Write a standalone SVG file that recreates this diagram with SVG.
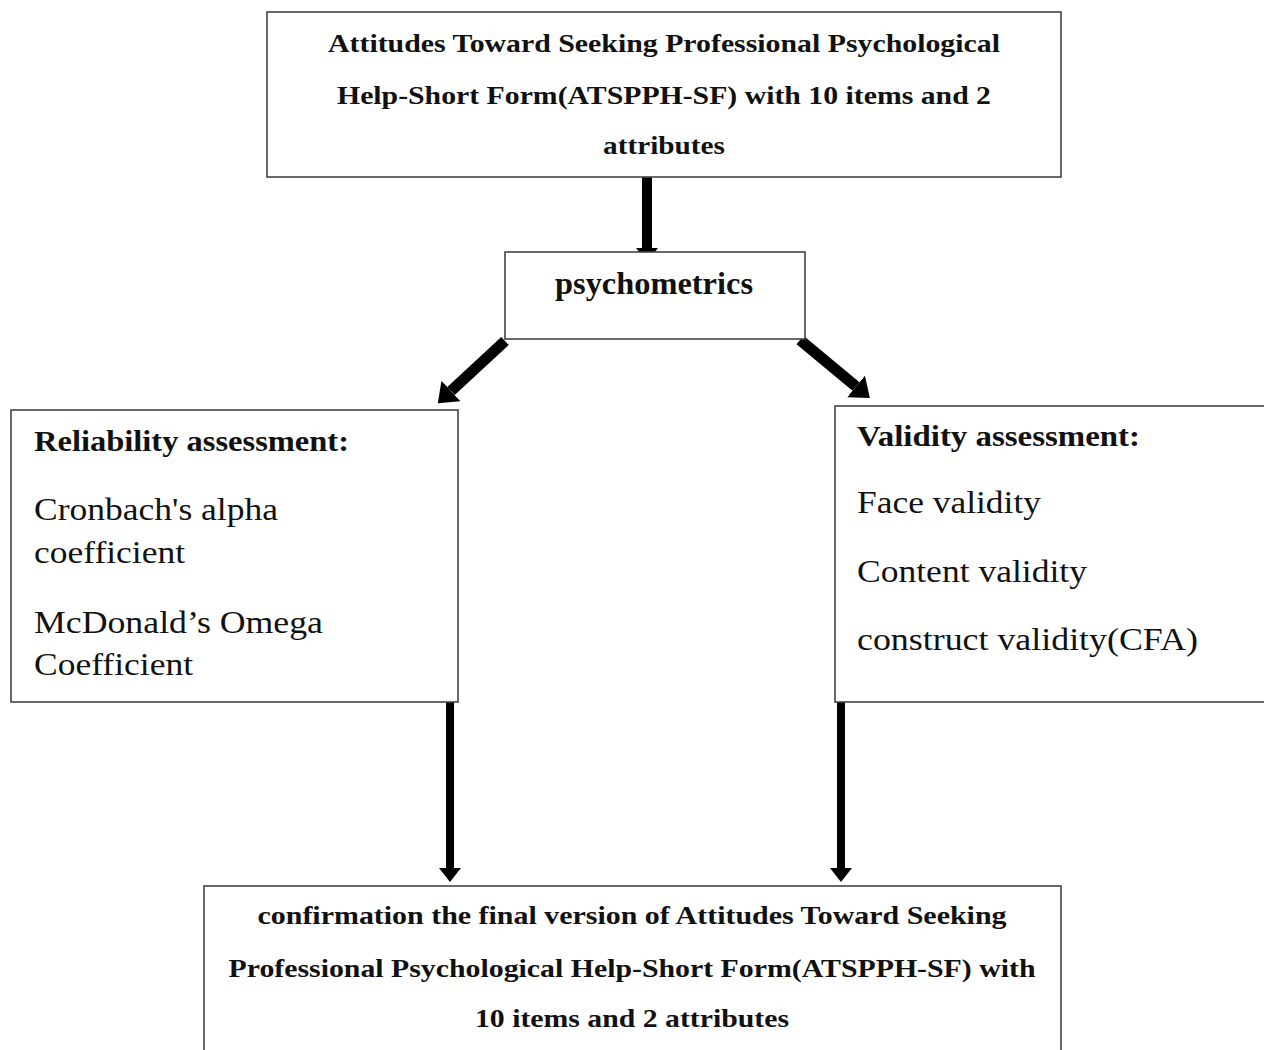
<svg xmlns="http://www.w3.org/2000/svg" width="1264" height="1050" viewBox="0 0 1264 1050">
<style>
.box{fill:#fff;stroke:#444;stroke-width:1.6}
.b{font-weight:700;fill:#111}
.r{font-weight:400;fill:#111}
.arr{stroke:#000;fill:none}
</style>
<defs>
<marker id="hA" markerUnits="userSpaceOnUse" markerWidth="14" markerHeight="22" viewBox="0 0 14 22" refX="0" refY="11" orient="auto"><path d="M0,0 L14,11 L0,22 z" fill="#000"/></marker>
<marker id="hB" markerUnits="userSpaceOnUse" markerWidth="18" markerHeight="28" viewBox="0 0 18 28" refX="0" refY="14" orient="auto"><path d="M0,0 L18,14 L0,28 z" fill="#000"/></marker>
</defs>
<rect width="1264" height="1050" fill="#fff"/>
<g id="connectors">
<line class="arr" x1="647" y1="176" x2="647" y2="248" stroke-width="10" marker-end="url(#hA)"/>
<line class="arr" x1="505" y1="341" x2="451" y2="391" stroke-width="11" marker-end="url(#hB)"/>
<line class="arr" x1="800" y1="340" x2="856" y2="386.5" stroke-width="11" marker-end="url(#hB)"/>
<line class="arr" x1="450" y1="702" x2="450" y2="868" stroke-width="8" marker-end="url(#hA)"/>
<line class="arr" x1="841" y1="702" x2="841" y2="868" stroke-width="8" marker-end="url(#hA)"/>
</g>
<g font-family="Liberation Serif, Times New Roman, serif">
<g id="node-top">
<rect class="box" x="267" y="12" width="794" height="165"/>
<text class="b" x="664" y="52" font-size="26" text-anchor="middle" textLength="672" lengthAdjust="spacingAndGlyphs">Attitudes Toward Seeking Professional Psychological</text>
<text class="b" x="664" y="104" font-size="26" text-anchor="middle" textLength="654" lengthAdjust="spacingAndGlyphs">Help-Short Form(ATSPPH-SF) with 10 items and 2</text>
<text class="b" x="664" y="154" font-size="26" text-anchor="middle" textLength="122" lengthAdjust="spacingAndGlyphs">attributes</text>
</g>
<g id="node-psychometrics">
<rect class="box" x="505" y="252" width="300" height="87"/>
<text class="b" x="654" y="294" font-size="31" text-anchor="middle" textLength="198" lengthAdjust="spacingAndGlyphs">psychometrics</text>
</g>
<g id="node-reliability">
<rect class="box" x="11" y="410" width="447" height="292"/>
<text class="b" x="34" y="451" font-size="29" textLength="315" lengthAdjust="spacingAndGlyphs">Reliability assessment:</text>
<text class="r" x="34" y="520" font-size="31" textLength="244" lengthAdjust="spacingAndGlyphs">Cronbach's alpha</text>
<text class="r" x="34" y="563" font-size="31" textLength="151" lengthAdjust="spacingAndGlyphs">coefficient</text>
<text class="r" x="34" y="633" font-size="31" textLength="289" lengthAdjust="spacingAndGlyphs">McDonald’s Omega</text>
<text class="r" x="34" y="675" font-size="31" textLength="159" lengthAdjust="spacingAndGlyphs">Coefficient</text>
</g>
<g id="node-validity">
<rect class="box" x="835" y="406" width="440" height="296"/>
<text class="b" x="857" y="446" font-size="29" textLength="283" lengthAdjust="spacingAndGlyphs">Validity assessment:</text>
<text class="r" x="857" y="513" font-size="31" textLength="184" lengthAdjust="spacingAndGlyphs">Face validity</text>
<text class="r" x="857" y="582" font-size="31" textLength="230" lengthAdjust="spacingAndGlyphs">Content validity</text>
<text class="r" x="857" y="650" font-size="31" textLength="341" lengthAdjust="spacingAndGlyphs">construct validity(CFA)</text>
</g>
<g id="node-final">
<rect class="box" x="204" y="886" width="857" height="180"/>
<text class="b" x="632" y="924" font-size="26" text-anchor="middle" textLength="749" lengthAdjust="spacingAndGlyphs">confirmation the final version of Attitudes Toward Seeking</text>
<text class="b" x="632" y="977" font-size="26" text-anchor="middle" textLength="807" lengthAdjust="spacingAndGlyphs">Professional Psychological Help-Short Form(ATSPPH-SF) with</text>
<text class="b" x="632" y="1027" font-size="26" text-anchor="middle" textLength="314" lengthAdjust="spacingAndGlyphs">10 items and 2 attributes</text>
</g>
</g>
</svg>
